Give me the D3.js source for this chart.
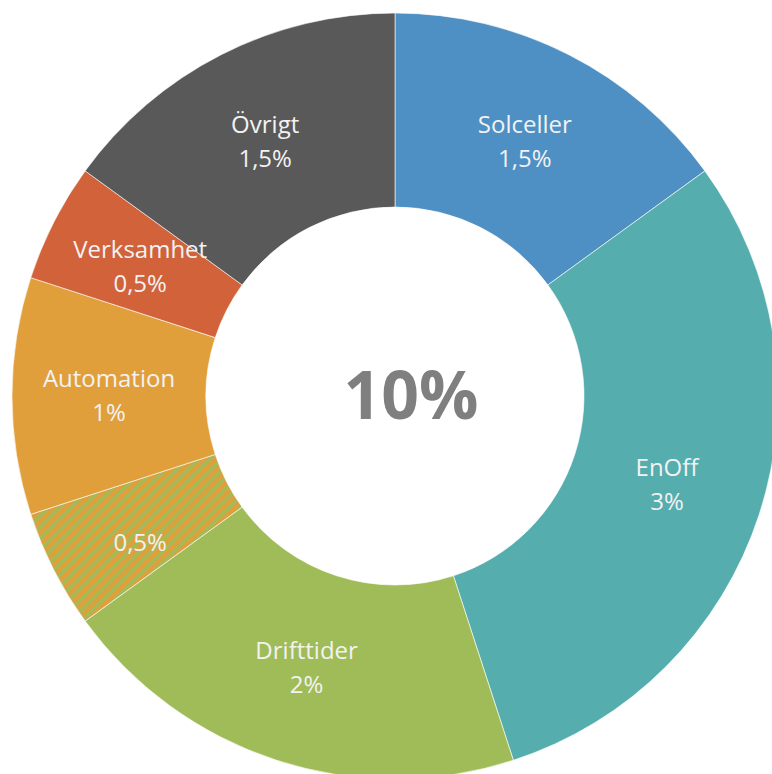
<!DOCTYPE html>
<html>
<head>
<meta charset="utf-8">
<script src="https://cdn.jsdelivr.net/npm/d3@7"></script>
<style>
  body { margin: 0; background: #fff; }
</style>
</head>
<body>
<div id="chart"></div>
<script>
// data (share of total, percent)
const categories = ["Solceller", "EnOff", "Drifttider", "", "Automation", "Verksamhet", "Övrigt"];
const values = [1.5, 3, 2, 0.5, 1, 0.5, 1.5];
const valueLabels = ["1,5%", "3%", "2%", "0,5%", "1%", "0,5%", "1,5%"];
const colors = ["#4E8FC4", "#55ADAE", "#A0BC58", "url(#hatch)", "#E19F3C", "#D2623A", "#595959"];
const totalLabel = "10%";

const width = 772, height = 774;
const cx = 395, cy = 396;
const outerR = 383, innerR = 189;

const svg = d3.select("#chart")
    .append("svg")
    .attr("width", width)
    .attr("height", height);

// orange with green diagonal stripes
const pattern = svg.append("defs")
    .append("pattern")
    .attr("id", "hatch")
    .attr("patternUnits", "userSpaceOnUse")
    .attr("width", 8)
    .attr("height", 8)
    .attr("patternTransform", "rotate(45)");
pattern.append("rect")
    .attr("width", 8).attr("height", 8)
    .attr("fill", "#E19F3C");
pattern.append("rect")
    .attr("width", 3.5).attr("height", 8)
    .attr("fill", "#A0BC58");

const g = svg.append("g")
    .attr("transform", `translate(${cx}, ${cy})`);

const pie = d3.pie().sort(null).value(d => d);
const arcs = pie(values);

const arc = d3.arc().innerRadius(innerR).outerRadius(outerR);
const labelArc = d3.arc().innerRadius((innerR + outerR) / 2).outerRadius((innerR + outerR) / 2);

g.selectAll(".slice")
    .data(arcs)
    .enter()
    .append("path")
    .classed("slice", true)
    .attr("d", arc)
    .attr("fill", (d, i) => colors[i])
    .attr("stroke", "#ffffff")
    .attr("stroke-width", 0.6);

const labels = g.selectAll(".lbl")
    .data(arcs)
    .enter()
    .append("text")
    .classed("lbl", true)
    .attr("transform", d => `translate(${labelArc.centroid(d)})`)
    .attr("text-anchor", "middle")
    .style("font-family", "Open Sans, sans-serif")
    .style("font-size", "24px")
    .style("fill", "#F2F2F2");

labels.append("tspan")
    .attr("x", 0)
    .attr("y", -17)
    .attr("dy", "0.35em")
    .text((d, i) => categories[i]);

labels.append("tspan")
    .attr("x", 0)
    .attr("y", 17)
    .attr("dy", "0.35em")
    .text((d, i) => valueLabels[i]);

g.append("text")
    .attr("x", 16)
    .attr("y", 0)
    .attr("dy", "0.35em")
    .attr("text-anchor", "middle")
    .style("font-family", "Open Sans, sans-serif")
    .style("font-size", "66px")
    .style("font-weight", 700)
    .style("fill", "#7F7F7F")
    .text(totalLabel);
</script>
</body>
</html>
